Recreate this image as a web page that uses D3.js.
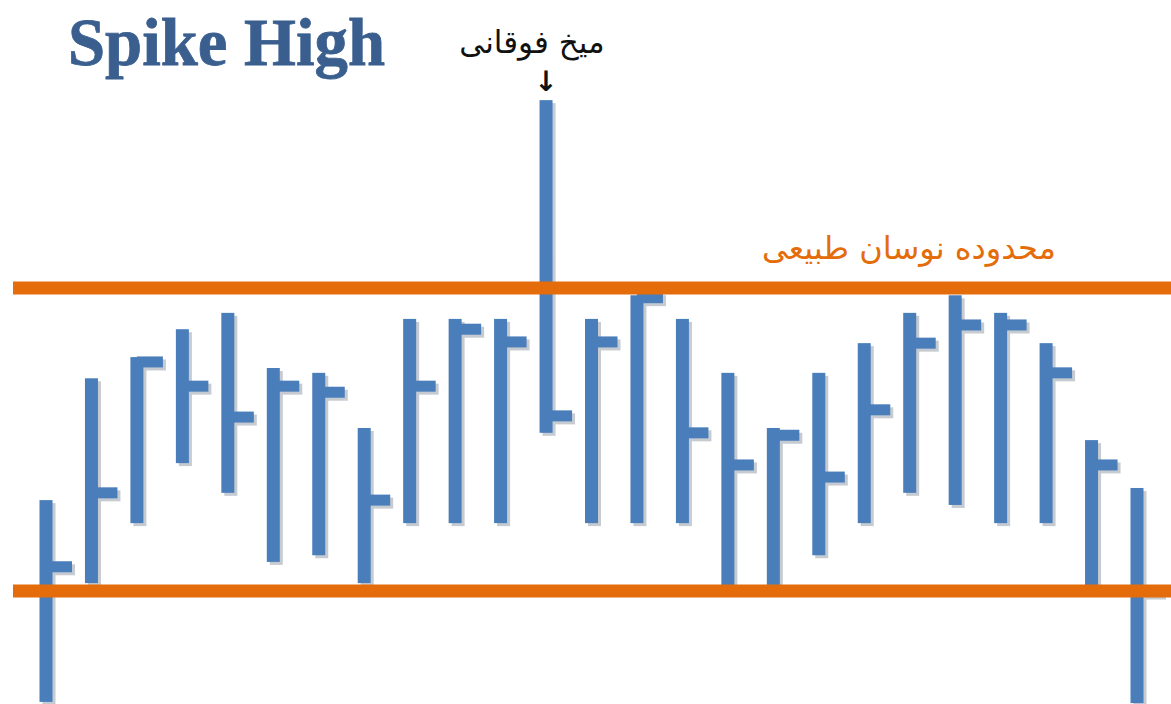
<!DOCTYPE html>
<html><head><meta charset="utf-8">
<script src="https://cdn.jsdelivr.net/npm/d3@7"></script>
<style>html,body{margin:0;padding:0;background:#fff;}svg{display:block;}</style>
</head><body>
<script>
const categories = ["1","2","3","4","5","6","7","8","9","10","11","12","13","14","15","16","17","18","19","20","21","22","23","24","25"];
const highs  = [35.0,55.1,58.6,63.2,65.9,56.8,56.0,46.9,64.9,64.9,64.9,101.0,64.9,68.8,64.9,56.0,46.9,56.0,60.9,65.9,68.8,65.9,60.9,44.9,37.0];
const lows   = [1.7,21.3,31.2,41.1,36.2,24.8,25.9,21.3,31.2,31.2,31.2,46.1,31.2,31.2,31.2,20.5,21.0,25.9,31.2,36.2,34.2,31.2,31.2,20.5,1.5];
const closes = [24.0,36.2,57.8,53.8,48.7,53.8,52.8,35.0,53.8,63.2,61.1,48.9,61.1,68.4,46.1,40.8,45.7,38.8,49.9,60.9,63.9,63.9,56.0,40.8,20.0];
const bandLevels = [70, 20];
const titleText = "Spike High";
const spikeLabel = "میخ فوقانی";
const rangeLabel = "محدوده نوسان طبیعی";

const W = 1171, H = 704;
const svg = d3.select("body").append("svg").attr("width", W).attr("height", H);

const x = d3.scalePoint().domain(categories).range([46, 1137]);
const y = d3.scaleLinear().domain([20, 70]).range([591, 288]);

const data = categories.map((c, i) => ({c, h: highs[i], l: lows[i], cl: closes[i]}));
const bw = 13, tickLen = 26, tickH = 11;
const blue = "#4a7ebb", shadow = "#b9bfc8";

// shadows
const sh = svg.append("g").attr("opacity", 0.8);
sh.selectAll("rect.s").data(data).join("rect")
  .attr("x", d => x(d.c) - bw/2 + 3).attr("y", d => y(d.h) + 3)
  .attr("width", bw).attr("height", d => y(d.l) - y(d.h))
  .attr("fill", shadow);
sh.selectAll("rect.t").data(data).join("rect")
  .attr("x", d => x(d.c) + 3).attr("y", d => y(d.cl) - tickH/2 + 3)
  .attr("width", tickLen).attr("height", tickH)
  .attr("fill", shadow);

const g = svg.append("g");
g.selectAll("rect.bar").data(data).join("rect").attr("class","bar")
  .attr("x", d => x(d.c) - bw/2).attr("y", d => y(d.h))
  .attr("width", bw).attr("height", d => y(d.l) - y(d.h))
  .attr("fill", blue);
g.selectAll("rect.close").data(data).join("rect").attr("class","close")
  .attr("x", d => x(d.c)).attr("y", d => y(d.cl) - tickH/2)
  .attr("width", tickLen).attr("height", tickH)
  .attr("fill", blue);

// range lines
svg.append("g").selectAll("rect").data(bandLevels).join("rect")
  .attr("x", 13).attr("y", d => y(d) - 6.5).attr("width", W - 13).attr("height", 13)
  .attr("fill", "#e46c0a");

// title
svg.append("text").text(titleText)
  .attr("x", 68).attr("y", 65)
  .attr("font-family", "'Liberation Serif', 'DejaVu Serif', serif")
  .attr("font-weight", "bold").attr("font-size", 67)
  .attr("textLength", 317).attr("lengthAdjust", "spacingAndGlyphs")
  .attr("fill", "#3a5f8f").attr("stroke", "#3a5f8f").attr("stroke-width", 0.8);

// spike label
svg.append("text").text(spikeLabel)
  .attr("x", 532).attr("y", 53).attr("text-anchor", "middle")
  .attr("direction", "rtl")
  .attr("font-family", "'DejaVu Sans', sans-serif").attr("font-size", 31)
  .attr("fill", "#111");
svg.append("text").text("↓")
  .attr("x", x("12")).attr("y", 91).attr("text-anchor", "middle")
  .attr("font-family", "'DejaVu Sans', sans-serif").attr("font-size", 28)
  .attr("font-weight", "bold")
  .attr("fill", "#111");

// range label
svg.append("text").text(rangeLabel)
  .attr("x", 909).attr("y", 259).attr("text-anchor", "middle")
  .attr("direction", "rtl")
  .attr("font-family", "'DejaVu Sans', sans-serif").attr("font-size", 32)
  .attr("fill", "#e46c0a");
</script>
</body></html>
